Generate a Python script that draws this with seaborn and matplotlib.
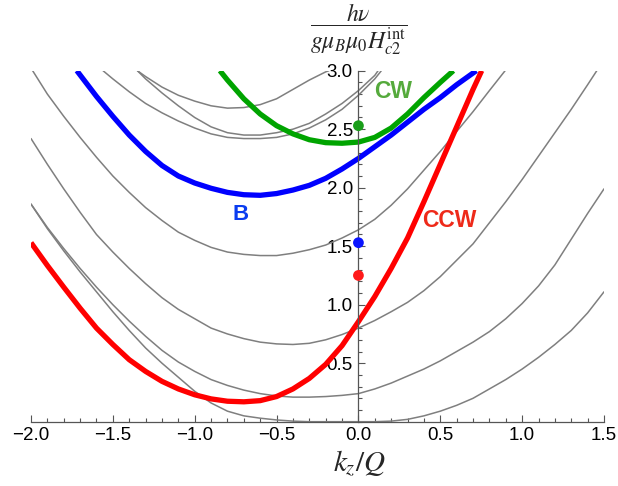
import numpy as np
import pandas as pd
import matplotlib
matplotlib.use("Agg")
import matplotlib.pyplot as plt
import seaborn as sns
from matplotlib.ticker import MultipleLocator

# ---- valores (k_z/Q, energia) ----
# bandas cinzentas
g1_x = [-2.0, -1.9, -1.8, -1.7, -1.6, -1.5, -1.4, -1.3, -1.2, -1.1, -1.0, -0.9, -0.8, -0.7, -0.6, -0.5, -0.4, -0.3,
        -0.2, -0.1, 0.0, 0.1, 0.2, 0.3, 0.4, 0.5, 0.6, 0.7, 0.8, 0.9, 1.0, 1.1, 1.2, 1.3, 1.4, 1.5]
g1_y = [1.86, 1.65, 1.46, 1.28, 1.11, 0.94, 0.78, 0.63, 0.5, 0.38, 0.26, 0.16, 0.09, 0.05, 0.03, 0.015, 0.005, 0.0,
        0.0, 0.0, 0.0, 0.0, 0.005, 0.02, 0.05, 0.09, 0.14, 0.2, 0.28, 0.36, 0.45, 0.55, 0.66, 0.78, 0.93, 1.11]
g2_x = g1_x
g2_y = [1.86, 1.66, 1.48, 1.31, 1.15, 1.0, 0.86, 0.73, 0.61, 0.51, 0.43, 0.36, 0.31, 0.27, 0.24, 0.22, 0.21, 0.21,
        0.215, 0.225, 0.24, 0.28, 0.33, 0.39, 0.45, 0.52, 0.6, 0.68, 0.77, 0.88, 1.01, 1.16, 1.34, 1.56, 1.78, 1.99]
g3_x = [-2.0, -1.9, -1.8, -1.7, -1.6, -1.5, -1.4, -1.3, -1.2, -1.1, -1.0, -0.9, -0.8, -0.7, -0.6, -0.5, -0.4, -0.3,
        -0.2, -0.1, 0.0, 0.1, 0.2, 0.3, 0.4, 0.5, 0.6, 0.7, 0.8, 0.9, 1.0, 1.1, 1.2, 1.3, 1.4, 1.456]
g3_y = [2.42, 2.2, 1.99, 1.79, 1.6, 1.45, 1.31, 1.18, 1.06, 0.96, 0.88, 0.8, 0.75, 0.71, 0.68, 0.665, 0.66, 0.67,
        0.7, 0.745, 0.8, 0.865, 0.94, 1.02, 1.12, 1.24, 1.38, 1.52, 1.7, 1.88, 2.07, 2.27, 2.47, 2.67, 2.88, 3.0]
g4_x = [-1.99, -1.9, -1.8, -1.7, -1.6, -1.5, -1.4, -1.3, -1.2, -1.1, -1.0, -0.9, -0.8, -0.7, -0.6, -0.5, -0.4, -0.3,
        -0.2, -0.1, 0.0, 0.1, 0.2, 0.3, 0.4, 0.5, 0.6, 0.7, 0.8, 0.896]
g4_y = [3.0, 2.8, 2.61, 2.43, 2.26, 2.1, 1.96, 1.83, 1.72, 1.62, 1.55, 1.49, 1.45, 1.43, 1.42, 1.42, 1.44, 1.47,
        1.51, 1.57, 1.64, 1.73, 1.85, 1.99, 2.15, 2.31, 2.48, 2.65, 2.83, 3.0]
g5_x = [-1.56, -1.5, -1.4, -1.3, -1.2, -1.1, -1.0, -0.9, -0.8, -0.7, -0.6, -0.5, -0.4, -0.3, -0.2, -0.1, 0.0, 0.1, 0.14]
g5_y = [3.0, 2.93, 2.82, 2.72, 2.64, 2.57, 2.51, 2.46, 2.43, 2.42, 2.42, 2.43, 2.46, 2.51, 2.58, 2.67, 2.79, 2.93, 3.0]
g6_x = [-1.35, -1.3, -1.2, -1.1, -1.0, -0.9, -0.8, -0.7, -0.6, -0.5, -0.4, -0.3, -0.2, -0.1, 0.0, 0.1, 0.12]
g6_y = [3.0, 2.93, 2.81, 2.7, 2.6, 2.52, 2.47, 2.45, 2.45, 2.47, 2.5, 2.55, 2.63, 2.72, 2.83, 2.96, 3.0]
g7_x = [-1.35, -1.3, -1.2, -1.1, -1.0, -0.9, -0.8, -0.7, -0.6, -0.5, -0.4, -0.3, -0.2, -0.18]
g7_y = [3.0, 2.95, 2.86, 2.79, 2.74, 2.7, 2.68, 2.685, 2.71, 2.76, 2.84, 2.92, 2.99, 3.0]

# modos coloridos
ccw_x = [-2.0, -1.9, -1.8, -1.7, -1.6, -1.5, -1.4, -1.3, -1.2, -1.1, -1.0, -0.9, -0.8, -0.7, -0.6, -0.5, -0.4, -0.3,
         -0.2, -0.1, 0.0, 0.1, 0.2, 0.3, 0.4, 0.5, 0.6, 0.7, 0.753]
ccw_y = [1.53, 1.335, 1.15, 0.97, 0.8, 0.66, 0.53, 0.43, 0.345, 0.28, 0.23, 0.195, 0.175, 0.17, 0.18, 0.215, 0.28, 0.37,
         0.49, 0.65, 0.855, 1.07, 1.31, 1.57, 1.88, 2.2, 2.52, 2.84, 3.0]
b_x = [-1.72, -1.6, -1.5, -1.4, -1.3, -1.2, -1.1, -1.0, -0.9, -0.8, -0.7, -0.6, -0.5, -0.4, -0.3, -0.2, -0.1, 0.0,
       0.1, 0.2, 0.3, 0.4, 0.5, 0.6, 0.72]
b_y = [3.0, 2.78, 2.61, 2.45, 2.31, 2.19, 2.1, 2.04, 1.995, 1.96, 1.94, 1.935, 1.95, 1.98, 2.02, 2.08, 2.16, 2.25,
       2.35, 2.45, 2.56, 2.67, 2.77, 2.88, 3.0]
cw_x = [-0.846, -0.8, -0.7, -0.6, -0.5, -0.4, -0.3, -0.2, -0.1, 0.0, 0.1, 0.2, 0.3, 0.4, 0.5, 0.58]
cw_y = [3.0, 2.92, 2.76, 2.63, 2.53, 2.46, 2.41, 2.385, 2.38, 2.39, 2.43, 2.51, 2.63, 2.77, 2.9, 3.0]

# pontos em k_z = 0
dot_y = [2.53, 1.53, 1.25]
dot_cores = ["#1a9e1a", "#0a14ff", "#ff1a1a"]

cinza = [(g1_x, g1_y), (g2_x, g2_y), (g3_x, g3_y), (g4_x, g4_y),
         (g5_x, g5_y), (g6_x, g6_y), (g7_x, g7_y)]
coloridos = [(ccw_x, ccw_y, "#ff0000"), (b_x, b_y, "#0000ff"), (cw_x, cw_y, "#00a400")]

sns.set_theme(style="white")
plt.rcParams['font.family'] = ['Liberation Sans', 'DejaVu Sans']
plt.rcParams['mathtext.fontset'] = 'stix'

fig = plt.figure(figsize=(6.18, 4.86), dpi=100)
ax = fig.add_axes([31 / 618, (486 - 421.7) / 486, 573 / 618, 351 / 486])

for xs, ys in cinza:
    d = pd.DataFrame({'k': xs, 'e': ys})
    sns.lineplot(data=d, x='k', y='e', ax=ax, color='#7f7f7f', lw=1.1,
                 sort=False, estimator=None)
for xs, ys, c in coloridos:
    d = pd.DataFrame({'k': xs, 'e': ys})
    sns.lineplot(data=d, x='k', y='e', ax=ax, color=c, lw=3.8,
                 sort=False, estimator=None, solid_capstyle='butt')

ax.scatter([0, 0, 0], dot_y, s=60, color=dot_cores, zorder=5, clip_on=False, edgecolors='none')

ax.set_xlim(-2.0, 1.5)
ax.set_ylim(0, 3.0)
ax.spines['left'].set_position(('data', 0))
ax.spines['bottom'].set_position(('data', 0))
ax.spines['right'].set_visible(False)
ax.spines['top'].set_visible(False)
for s in ['left', 'bottom']:
    ax.spines[s].set_color('#555555')
    ax.spines[s].set_linewidth(0.9)

ax.xaxis.set_major_locator(MultipleLocator(0.5))
ax.xaxis.set_minor_locator(MultipleLocator(0.1))
ax.yaxis.set_major_locator(MultipleLocator(0.5))
ax.yaxis.set_minor_locator(MultipleLocator(0.1))
ax.tick_params(which='both', direction='in', color='#555555', width=0.8,
               labelsize=13.5, labelcolor='black', bottom=True, left=True)
ax.tick_params(which='major', length=5, pad=4)
ax.tick_params(which='minor', length=2.8)
ax.set_xticks(np.arange(-2.0, 1.51, 0.5))
ax.set_xticklabels([f"{v:.1f}".replace('-', '\u2212') for v in np.arange(-2.0, 1.51, 0.5)])
ax.set_yticks([0.5, 1.0, 1.5, 2.0, 2.5, 3.0])
ax.set_yticklabels(["0.5", "1.0", "1.5", "2.0", "2.5", "3.0"])
ax.set_xlabel('')
ax.set_ylabel('')

fig.text(359 / 618, 1 - 464 / 486, r'$k_z/Q$', ha='center', va='center', fontsize=21)
fig.text(359 / 618, 1 - 29 / 486, r'$\dfrac{h\nu}{g\mu_B\mu_0 H_{c2}^{\mathrm{int}}}$',
         ha='center', va='center', fontsize=17)

ax.text(0.214, 2.82, 'CW', color='#55aa3c', fontsize=16.5, fontweight='bold', ha='center', va='center')
ax.text(-0.72, 1.77, 'B', color='#0a3cf0', fontsize=16, fontweight='bold', ha='center', va='center')
ax.text(0.553, 1.72, 'CCW', color='#ee2a1a', fontsize=16.5, fontweight='bold', ha='center', va='center')

fig.savefig('out.png', dpi=100)
